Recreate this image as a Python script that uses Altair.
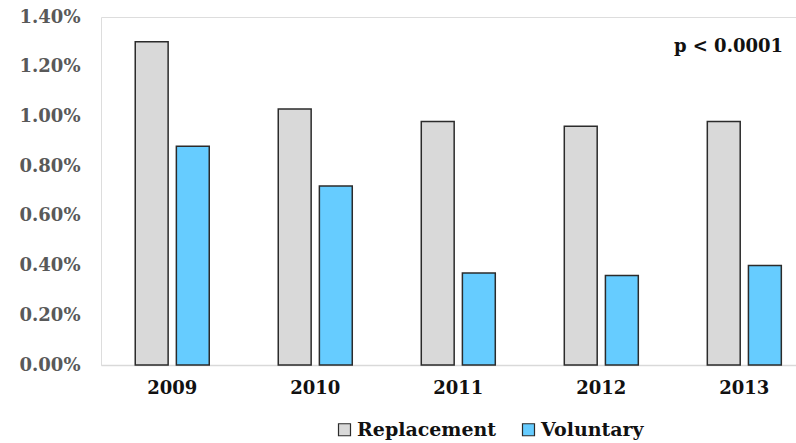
import altair as alt
import pandas as pd

years = ["2009", "2010", "2011", "2012", "2013"]
replacement = [0.0130, 0.0103, 0.0098, 0.0096, 0.0098]
voluntary = [0.0088, 0.0072, 0.0037, 0.0036, 0.0040]
series = ["Replacement", "Voluntary"]
colors = ["#d9d9d9", "#66ccff"]
y_ticks = [0, 0.002, 0.004, 0.006, 0.008, 0.010, 0.012, 0.014]
annotation = "p < 0.0001"

rows = []
for i, yr in enumerate(years):
    rows.append({"year": yr, "type": "Replacement", "value": replacement[i]})
    rows.append({"year": yr, "type": "Voluntary", "value": voluntary[i]})
df = pd.DataFrame(rows)

FONT = "DejaVu Serif"

bars = alt.Chart(df).mark_bar(stroke="#2b2b2b", strokeWidth=1.5).encode(
    x=alt.X("year:N", sort=years,
            scale=alt.Scale(paddingInner=0.4825, paddingOuter=0.171, align=0.7),
            axis=alt.Axis(title=None, labelAngle=0, ticks=False, domain=True,
                          domainColor="#d9d9d9", domainWidth=1.5,
                          labelFont=FONT, labelFontWeight="bold", labelFontSize=18,
                          labelColor="#111111", labelPadding=14)),
    xOffset=alt.XOffset("type:N", sort=series,
                        scale=alt.Scale(paddingInner=0.2, paddingOuter=0)),
    y=alt.Y("value:Q", scale=alt.Scale(domain=[0, 0.014]),
            axis=alt.Axis(title=None, values=y_ticks, format=".2%", grid=False,
                          ticks=False, domain=False, labelFont=FONT,
                          labelFontWeight="bold", labelFontSize=18,
                          labelColor="#595959", labelPadding=21)),
    color=alt.Color("type:N", sort=series,
                    scale=alt.Scale(domain=series, range=colors),
                    legend=alt.Legend(title=None, orient="none", direction="horizontal",
                                      legendX=234, legendY=403,
                                      symbolType="square", symbolSize=144,
                                      symbolStrokeColor="#2b2b2b", symbolStrokeWidth=1.2,
                                      labelFont=FONT, labelFontWeight="bold",
                                      labelFontSize=19, labelColor="#111111",
                                      columnPadding=22, labelOffset=3)),
)

note = alt.Chart(pd.DataFrame({"t": [annotation]})).mark_text(
    font=FONT, fontWeight="bold", fontSize=18, align="right", baseline="middle",
    color="#111111"
).encode(text="t:N", x=alt.value(682), y=alt.datum(0.0128))

chart = alt.layer(bars, note).properties(
    width=695, height=348,
    autosize=alt.AutoSizeParams(type="none"),
    padding={"left": 101, "top": 17, "right": 0, "bottom": 78},
).configure_view(stroke=None).configure(background="white")

chart.save("out.html", embed_options={"renderer": "svg", "actions": False})
